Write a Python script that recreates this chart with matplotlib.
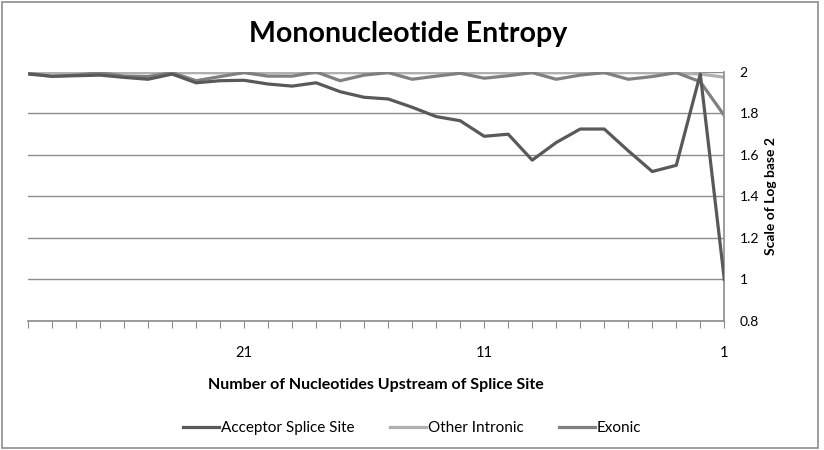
"""Mononucleotide entropy upstream of splice sites."""
import matplotlib
matplotlib.use("Agg")
import matplotlib.pyplot as plt
from matplotlib.patches import Rectangle

plt.rcParams["font.family"] = ["Lato", "DejaVu Sans"]

# positions 1..30 upstream of the splice site
positions = list(range(1, 31))

acceptor = [1.00, 1.99, 1.55, 1.52, 1.62, 1.725, 1.725, 1.66, 1.575, 1.70,
            1.69, 1.765, 1.785, 1.83, 1.87, 1.878, 1.905, 1.948, 1.932, 1.942,
            1.96, 1.958, 1.948, 1.99, 1.965, 1.974, 1.985, 1.982, 1.98, 1.99]
other_intronic = [1.975, 1.99, 1.995, 1.996, 1.997, 1.996, 1.997, 1.996, 1.997, 1.996,
                  1.997, 1.996, 1.997, 1.996, 1.997, 1.996, 1.997, 1.996, 1.997, 1.996,
                  1.997, 1.996, 1.997, 1.996, 1.997, 1.996, 1.997, 1.996, 1.997, 1.996]
exonic = [1.79, 1.953, 1.997, 1.978, 1.965, 1.997, 1.985, 1.965, 1.997, 1.982,
          1.97, 1.994, 1.98, 1.965, 1.997, 1.985, 1.958, 2.0, 1.98, 1.98,
          1.997, 1.978, 1.958, 1.997, 1.978, 1.98, 1.997, 1.985, 1.978, 1.994]

y_ticks = [0.8, 1, 1.2, 1.4, 1.6, 1.8, 2]
x_labels = {1: "1", 11: "11", 21: "21"}

fig = plt.figure(figsize=(8.24, 4.5), dpi=100)
fig.patches.append(Rectangle((0.003, 0.004), 0.990, 0.992, transform=fig.transFigure,
                             fill=False, edgecolor="#8c8c8c", linewidth=1.2))

ax = fig.add_axes([0.034, 0.287, 0.845, 0.553])
ax.plot(positions, acceptor, color="#595959", lw=2.3, label="Acceptor Splice Site", zorder=3)
ax.plot(positions, other_intronic, color="#b0b0b0", lw=2.3, label="Other Intronic", zorder=2)
ax.plot(positions, exonic, color="#808080", lw=2.3, label="Exonic", zorder=2.5)

ax.set_xlim(30, 1)
ax.set_ylim(0.8, 2)
ax.yaxis.tick_right()
ax.yaxis.set_label_position("right")
ax.set_yticks(y_ticks)
ax.set_yticklabels(["0.8", "1", "1.2", "1.4", "1.6", "1.8", "2"], fontsize=10)
ax.tick_params(axis="y", length=0, pad=11)
ax.set_xticks(positions)
ax.set_xticklabels([x_labels.get(p, "") for p in positions], fontsize=10.5)
ax.tick_params(axis="x", length=5, direction="out", color="#8c8c8c", pad=13)
ax.grid(axis="y", color="#8c8c8c", lw=1.0)
ax.set_axisbelow(True)

for side in ["top", "left"]:
    ax.spines[side].set_visible(False)
for side in ["right", "bottom"]:
    ax.spines[side].set_color("#8c8c8c")
    ax.spines[side].set_linewidth(1.2)

ax.set_ylabel("Scale of Log base 2", fontsize=10, fontweight="bold", labelpad=4)
ax.set_xlabel("Number of Nucleotides Upstream of Splice Site", fontsize=11.5,
              fontweight="bold", labelpad=13)
fig.text(0.495, 0.925, "Mononucleotide Entropy", ha="center", va="center",
         fontsize=20.5, fontweight="bold")

fig.legend(loc="center", bbox_to_anchor=(0.5, 0.048), ncol=3, frameon=False,
           fontsize=11, handlelength=2.4, handletextpad=0.1, columnspacing=2.3)

fig.savefig("out.png", dpi=100)
